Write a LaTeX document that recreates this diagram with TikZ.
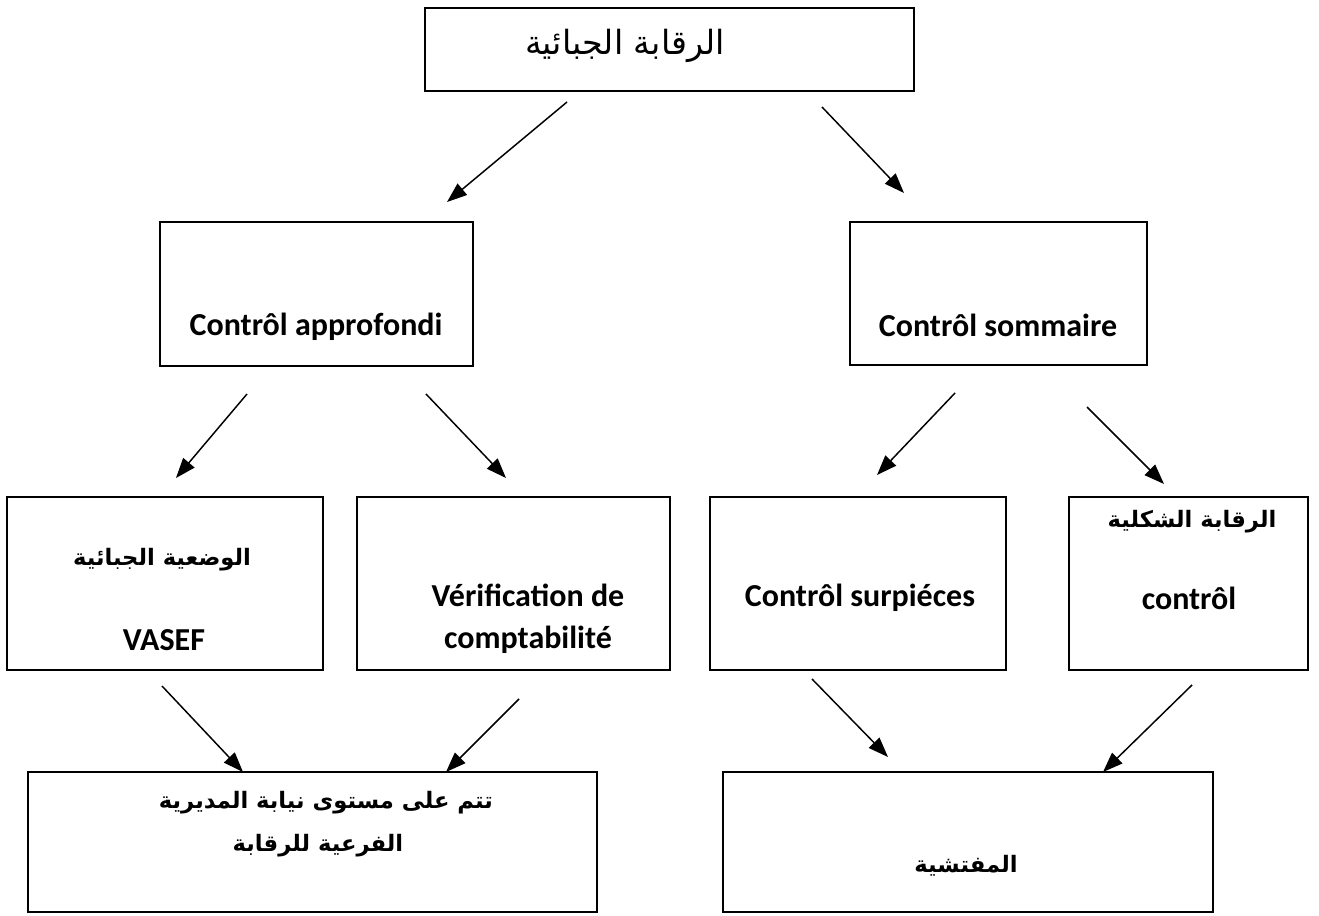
\documentclass[tikz,border=0pt]{standalone}
\usepackage{fontspec}
\setmainfont{Carlito}
\newfontfamily\arabicfont[Script=Arabic]{DejaVu Sans}
\TeXXeTstate=1
\usetikzlibrary{arrows.meta,fit}
\begin{document}
\begin{tikzpicture}[x=0.75pt,y=-0.75pt,
  box/.style={draw,line width=1.4pt,inner sep=0pt},
  lat/.style={inner sep=0pt,font=\fontsize{24}{28}\selectfont\bfseries},
  arb/.style={inner sep=0pt,font=\fontsize{17}{22}\selectfont\arabicfont\bfseries},
  arbtop/.style={inner sep=0pt,font=\fontsize{25}{30}\selectfont\arabicfont},
  arr/.style={line width=1.1pt,-{Triangle[length=15pt,width=11pt]}}]
\useasboundingbox (0,0) rectangle (1319,916);
% boxes
\node[box,fit={(425,8) (914,91)}] (top) {};
\node[box,fit={(160,222) (473,366)}] (app) {};
\node[box,fit={(850,222) (1147,365)}] (som) {};
\node[box,fit={(7,497) (323,670)}] (vas) {};
\node[box,fit={(357,497) (670,670)}] (ver) {};
\node[box,fit={(710,497) (1006,670)}] (sur) {};
\node[box,fit={(1069,497) (1308,670)}] (for) {};
\node[box,fit={(28,772) (597,912)}] (sub) {};
\node[box,fit={(723,772) (1213,912)}] (ins) {};
% texts
\node[arbtop] (ttop) at (625,46) {\beginR الرقابة الجبائية\endR};
\node[lat] (tapp) at (316,327) {Contrôl approfondi};
\node[lat] (tsom) at (998,325) {Contrôl sommaire};
\node[arb] (tvas1) at (162,560) {\beginR الوضعية الجبائية\endR};
\node[lat] (tvas2) at (164,640) {VASEF};
\node[lat] (tver1) at (528,595) {Vérification de};
\node[lat] (tver2) at (528,640) {comptabilité};
\node[lat] (tsur) at (860,598) {Contrôl surpiéces};
\node[arb] (tfor1) at (1192,522) {\beginR الرقابة الشكلية\endR};
\node[lat] (tfor2) at (1189,598) {contrôl};
\node[arb] (tsub1) at (326,803) {\beginR تتم على مستوى نيابة المديرية\endR};
\node[arb] (tsub2) at (318,846) {\beginR الفرعية للرقابة\endR};
\node[arb] (tins) at (966,866) {\beginR المفتشية\endR};
% arrow ends
\coordinate (a1s) at (567,102); \coordinate (a1e) at (447,202);
\coordinate (a2s) at (822,107); \coordinate (a2e) at (904,193);
\coordinate (a3s) at (247,394); \coordinate (a3e) at (176,478);
\coordinate (a4s) at (426,394); \coordinate (a4e) at (506,478);
\coordinate (a5s) at (955,393); \coordinate (a5e) at (877,475);
\coordinate (a6s) at (1087,407); \coordinate (a6e) at (1164,484);
\coordinate (a7s) at (162,686); \coordinate (a7e) at (243,772);
\coordinate (a8s) at (519,699); \coordinate (a8e) at (446,772);
\coordinate (a9s) at (812,679); \coordinate (a9e) at (888,757);
\coordinate (a10s) at (1192,685); \coordinate (a10e) at (1103,772);
\draw[arr] (a1s) -- (a1e);
\draw[arr] (a2s) -- (a2e);
\draw[arr] (a3s) -- (a3e);
\draw[arr] (a4s) -- (a4e);
\draw[arr] (a5s) -- (a5e);
\draw[arr] (a6s) -- (a6e);
\draw[arr] (a7s) -- (a7e);
\draw[arr] (a8s) -- (a8e);
\draw[arr] (a9s) -- (a9e);
\draw[arr] (a10s) -- (a10e);
\end{tikzpicture}
\end{document}
